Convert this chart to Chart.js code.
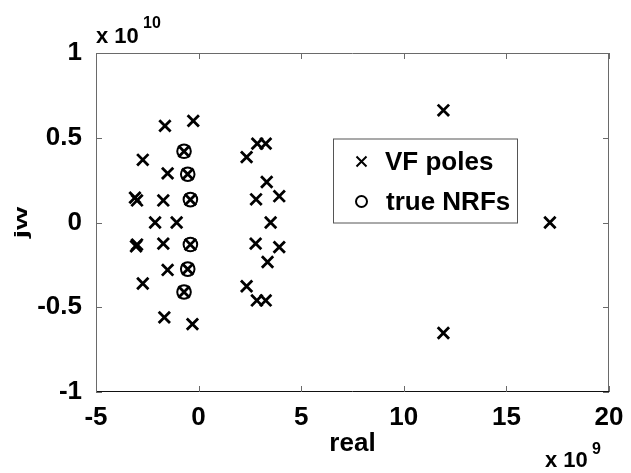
<!DOCTYPE html>
<html>
<head>
<meta charset="utf-8">
<script src="https://cdn.jsdelivr.net/npm/chart.js@4/dist/chart.umd.min.js"></script>
<style>
  html, body { margin: 0; padding: 0; background: #fff; }
  canvas { display: block; }
</style>
</head>
<body>
<canvas id="poleChart" width="631" height="473"></canvas>
<script>
// axis ticks (real in units of 1e9, jw in units of 1e10)
const xTickValues = [-5, 0, 5, 10, 15, 20];
const xTickLabels = ['-5', '0', '5', '10', '15', '20'];
const yTickValues = [-1, -0.5, 0, 0.5, 1];
const yTickLabels = ['-1', '-0.5', '0', '0.5', '1'];

// VF poles
const vfReal = [
  -3.10, -3.00, -3.05, -3.00,
  -2.72, -2.72,
  -1.64, -1.67,
  -1.51, -1.51,
  -1.72, -1.72,
  -2.12, -1.07,
  -0.26, -0.30,
  -0.40, -0.40, -0.53, -0.53, -0.71, -0.71,
  2.34, 2.34,
  2.86, 2.84,
  3.27, 3.27,
  3.32, 3.36,
  2.80, 2.78,
  3.93, 3.93,
  3.51,
  11.93, 11.93,
  17.12
];
const vfImag = [
  0.147, 0.13, -0.14, -0.13,
  0.37, -0.36,
  0.57, -0.56,
  0.29, -0.28,
  0.13, -0.125,
  0, 0,
  0.60, -0.60,
  0.135, -0.13, 0.285, -0.275, 0.42, -0.41,
  0.386, -0.376,
  0.465, -0.46,
  0.465, -0.46,
  0.239, -0.233,
  0.137, -0.125,
  0.155, -0.145,
  0,
  0.662, -0.652,
  0
];

// true NRFs
const nrfReal = [-0.40, -0.40, -0.53, -0.53, -0.71, -0.71];
const nrfImag = [0.135, -0.13, 0.285, -0.275, 0.42, -0.41];

const seriesNames = ['VF poles', 'true NRFs'];

const toPoints = (xs, ys) => xs.map((x, i) => ({ x: x, y: ys[i] }));

const FONT = "'Liberation Sans', Arial, sans-serif";

const decorPlugin = {
  id: 'decor',
  afterDraw(chart) {
    const ctx = chart.ctx;
    const a = chart.chartArea;
    const xs = chart.scales.x, ys = chart.scales.y;
    const tick = 6;
    ctx.save();

    // axes box
    ctx.lineWidth = 1;
    ctx.strokeStyle = '#6a6a6a';
    ctx.beginPath();
    ctx.moveTo(a.left + 0.5, a.bottom);
    ctx.lineTo(a.left + 0.5, a.top + 0.5);
    ctx.lineTo(a.right - 0.5, a.top + 0.5);
    ctx.lineTo(a.right - 0.5, a.bottom);
    ctx.stroke();
    ctx.strokeStyle = '#111';
    ctx.beginPath();
    ctx.moveTo(a.left, a.bottom - 0.5);
    ctx.lineTo(a.right, a.bottom - 0.5);
    ctx.stroke();

    // inward ticks on all sides
    ctx.strokeStyle = '#6a6a6a';
    ctx.beginPath();
    xTickValues.forEach(v => {
      const px = Math.round(xs.getPixelForValue(v)) + 0.5;
      ctx.moveTo(px, a.bottom); ctx.lineTo(px, a.bottom - tick);
      ctx.moveTo(px, a.top); ctx.lineTo(px, a.top + tick);
    });
    yTickValues.forEach(v => {
      const py = Math.round(ys.getPixelForValue(v)) + 0.5;
      ctx.moveTo(a.left, py); ctx.lineTo(a.left + tick, py);
      ctx.moveTo(a.right, py); ctx.lineTo(a.right - tick, py);
    });
    ctx.stroke();

    // y axis title, drawn tall and thin like the original
    ctx.fillStyle = '#000';
    ctx.save();
    ctx.translate(27, (a.top + a.bottom) / 2);
    ctx.rotate(-Math.PI / 2);
    ctx.scale(1.15, 0.68);
    ctx.font = 'bold 26px ' + FONT;
    ctx.textAlign = 'center';
    ctx.textBaseline = 'alphabetic';
    ctx.fillText('jw', 0, 0);
    ctx.restore();

    // exponent labels
    ctx.textBaseline = 'alphabetic';
    ctx.textAlign = 'left';
    ctx.font = 'bold 22px ' + FONT;
    ctx.fillText('x 10', a.left, 43);
    ctx.fillText('x 10', 545, 467);
    ctx.font = 'bold 16px ' + FONT;
    ctx.fillText('10', 143, 28);
    ctx.fillText('9', 592, 454);

    // legend
    const lx = 333, ly = 138.5, lw = 184, lh = 84;
    ctx.fillStyle = '#fff';
    ctx.fillRect(lx, ly, lw, lh);
    ctx.strokeStyle = '#555';
    ctx.lineWidth = 1;
    ctx.strokeRect(lx + 0.5, ly + 0.5, lw, lh);

    ctx.strokeStyle = '#000';
    ctx.lineWidth = 2;
    const mx = 361.5, r1 = 161.5, r2 = 201.5;
    ctx.beginPath();
    ctx.moveTo(mx - 5, r1 - 5); ctx.lineTo(mx + 5, r1 + 5);
    ctx.moveTo(mx + 5, r1 - 5); ctx.lineTo(mx - 5, r1 + 5);
    ctx.stroke();
    ctx.beginPath();
    ctx.arc(mx, r2, 5.5, 0, Math.PI * 2);
    ctx.stroke();

    ctx.fillStyle = '#000';
    ctx.font = 'bold 26px ' + FONT;
    ctx.textBaseline = 'middle';
    ctx.fillText(seriesNames[0], 385, r1 + 1);
    ctx.fillText(seriesNames[1], 386, r2 + 1);
    ctx.restore();
  }
};

new Chart(document.getElementById('poleChart'), {
  type: 'scatter',
  data: {
    datasets: [
      {
        label: seriesNames[0],
        data: toPoints(vfReal, vfImag),
        pointStyle: 'crossRot',
        pointRadius: 8,
        borderWidth: 2.8,
        borderColor: '#000',
        backgroundColor: '#000',
        showLine: false
      },
      {
        label: seriesNames[1],
        data: toPoints(nrfReal, nrfImag),
        pointStyle: 'circle',
        pointRadius: 6.8,
        borderWidth: 2,
        borderColor: '#000',
        backgroundColor: 'rgba(0,0,0,0)',
        showLine: false
      }
    ]
  },
  options: {
    responsive: false,
    animation: false,
    devicePixelRatio: 1,
    layout: { padding: { left: 0, top: 53, right: 22, bottom: 0 } },
    plugins: {
      legend: { display: false },
      tooltip: { enabled: false }
    },
    scales: {
      x: {
        type: 'linear',
        min: -5, max: 20,
        afterBuildTicks: s => { s.ticks = xTickValues.map(v => ({ value: v })); },
        afterFit: s => { s.height = 81; },
        grid: { display: false },
        border: { display: false },
        ticks: {
          color: '#000',
          padding: 2,
          maxRotation: 0,
          font: { family: FONT, size: 26, weight: 'bold' },
          callback: (v, i) => xTickLabels[i]
        },
        title: {
          display: true, text: 'real', color: '#000',
          padding: { top: 0, bottom: 14 },
          font: { family: FONT, size: 26, weight: 'bold' }
        }
      },
      y: {
        type: 'linear',
        min: -1, max: 1,
        afterBuildTicks: s => { s.ticks = yTickValues.map(v => ({ value: v })); },
        afterFit: s => { s.width = 96; },
        grid: { display: false },
        border: { display: false },
        ticks: {
          color: '#000',
          padding: 6,
          font: { family: FONT, size: 26, weight: 'bold' },
          callback: (v, i) => yTickLabels[i]
        }
      }
    }
  },
  plugins: [decorPlugin]
});
</script>
</body>
</html>
